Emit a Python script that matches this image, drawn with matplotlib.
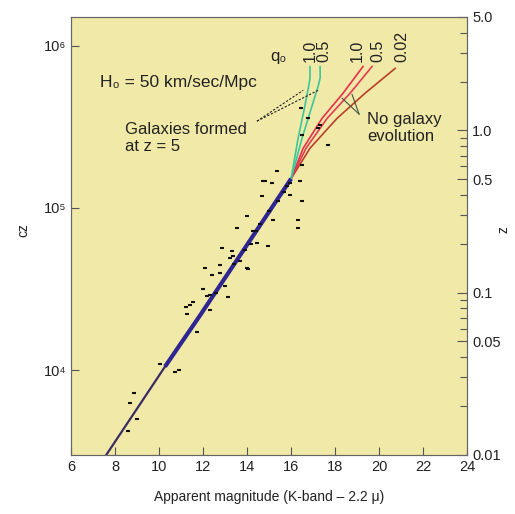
import matplotlib
matplotlib.use("Agg")
import matplotlib.pyplot as plt
from matplotlib.ticker import FixedLocator, FixedFormatter, LogLocator, NullFormatter, NullLocator

plt.rcParams['font.family'] = ['Liberation Sans', 'DejaVu Sans']

C_KMS = 3.0e5  # z = cz / c

# main relation (thick line)
line_mag = [7.6, 10.27, 11.86, 16.0]
line_cz = [3000, 10500, 21700, 151000]

# model curves beyond m ~ 16
green_cz = [151000, 269000, 407000, 562000, 631000, 741000]
green_q10_mag = [16.0, 16.32, 16.6, 16.8, 16.86, 16.86]
green_q05_mag = [16.0, 16.5, 16.91, 17.23, 17.32, 17.32]

red_cz = [151000, 233000, 356000, 508000, 743000]
red_q10_mag = [16.0, 16.55, 17.41, 18.36, 19.27]
red_q05_mag = [16.0, 16.68, 17.64, 18.68, 19.68]
red_q002_mag = [16.0, 16.86, 18.09, 19.36, 20.73]
red_q002_cz = [151000, 233000, 356000, 508000, 723000]

# observed galaxies
gal_mag = [8.68, 8.86, 8.59, 9.0, 10.05, 10.73, 10.91, 11.23, 11.41, 11.55,
           11.27, 11.73, 12.0, 12.32, 12.18, 12.09, 12.77, 13.14, 14.0, 13.36,
           14.73, 15.36, 15.14, 15.82, 16.41, 16.5, 15.95, 14.68, 15.18, 14.0,
           14.95, 16.32, 13.55, 12.86, 13.32, 13.23, 14.05, 12.77, 12.41, 12.32,
           14.45, 14.27, 16.45, 16.77, 17.32, 16.5, 17.68, 16.5, 15.95, 14.82,
           17.23, 16.32, 12.6, 13.0, 13.4, 13.9, 14.2, 14.6, 15.0, 15.4,
           15.7, 13.7, 14.4]
gal_cz = [6300, 7200, 4200, 5000, 10900, 9700, 10000, 24400, 25100, 26100,
          22100, 17100, 31400, 23300, 28800, 42800, 39900, 28000, 42800, 50800,
          146500, 168700, 142200, 136400, 146500, 110500, 120300, 118600, 84400, 89300,
          58500, 75300, 75300, 56900, 54500, 49300, 41700, 44700, 38800, 29200,
          61000, 72300, 410000, 356000, 323000, 280000, 244000, 184000, 142000, 146500,
          309000, 84400, 30000, 33000, 45000, 55000, 60000, 80000, 95000, 110000,
          125000, 47000, 72000]

x_ticks = [6, 8, 10, 12, 14, 16, 18, 20, 22, 24]
cz_ticks = [1e4, 1e5, 1e6]
cz_labels = ["10⁴", "10⁵", "10⁶"]
z_ticks = [0.01, 0.05, 0.1, 0.5, 1.0, 5.0]
z_labels = ["0.01", "0.05", "0.1", "0.5", "1.0", "5.0"]

txt = "#222222"
fig = plt.figure(figsize=(5.15, 5.14), dpi=100)
ax = fig.add_axes([0.138, 0.115, 0.769, 0.852])
ax.set_facecolor("#f1e9a8")

ax.plot(red_q002_mag, red_q002_cz, color="#b8402a", lw=1.2)
ax.plot(red_q05_mag, red_cz, color="#e23a55", lw=1.2)
ax.plot(red_q10_mag, red_cz, color="#e4304c", lw=1.2)
ax.plot(green_q05_mag, green_cz, color="#3cc79a", lw=1.2)
ax.plot(green_q10_mag, green_cz, color="#3cc79a", lw=1.2)
ax.plot(line_mag[:3], line_cz[:3], color="#3b2c62", lw=1.6)
ax.plot(line_mag[1:], line_cz[1:], color="#2e2590", lw=3.0, solid_capstyle="butt")
ax.plot(gal_mag, gal_cz, ls="none", marker="_", ms=3.5, mew=1.5, color="#111111")

# annotations
ax.plot([14.45, 16.55], [342000, 530000], ls=(0, (2, 1.5)), lw=0.8, color=txt)
ax.plot([14.45, 17.23], [342000, 530000], ls=(0, (2, 1.5)), lw=0.8, color=txt)
ax.plot([19.09, 18.32], [378000, 473000], lw=0.8, color="#445544")
ax.plot([19.09, 18.77], [378000, 500000], lw=0.8, color="#445544")

ax.text(7.32, 593000, "H₀ = 50 km/sec/Mpc", fontsize=12.5, color=txt, va="center")
ax.text(8.45, 268000, "Galaxies formed\nat z = 5", fontsize=12, color=txt,
        va="center", linespacing=1.15)
ax.text(19.45, 309000, "No galaxy\nevolution", fontsize=12, color=txt,
        va="center", linespacing=1.2)
ax.text(15.4, 850000, "q₀", fontsize=12, color=txt, va="center", ha="center")
for xm, lab in zip([16.86, 17.5, 19.0, 19.95, 21.05], ["1.0", "0.5", "1.0", "0.5", "0.02"]):
    ax.text(xm, 790000, lab, rotation=90, fontsize=11.5, color=txt,
            ha="center", va="bottom")

ax.set_xlim(6, 24)
ax.set_yscale("log")
ax.set_ylim(0.01 * C_KMS, 5.0 * C_KMS)
ax.xaxis.set_major_locator(FixedLocator(x_ticks))
ax.yaxis.set_major_locator(FixedLocator(cz_ticks))
ax.yaxis.set_major_formatter(FixedFormatter(cz_labels))
ax.yaxis.set_minor_locator(NullLocator())
ax.tick_params(direction="in", length=6, width=0.8, colors="#555555",
               labelcolor=txt, labelsize=10.5, top=False, right=False)
ax.set_xlabel("Apparent magnitude (K-band – 2.2 μ)", fontsize=10, color=txt, labelpad=12)

ax2 = ax.twinx()
ax2.set_yscale("log")
ax2.set_ylim(0.01, 5.0)
ax2.yaxis.set_major_locator(FixedLocator(z_ticks))
ax2.yaxis.set_major_formatter(FixedFormatter(z_labels))
ax2.yaxis.set_minor_locator(LogLocator(base=10, subs=range(2, 10)))
ax2.yaxis.set_minor_formatter(NullFormatter())
ax2.tick_params(which="major", direction="in", length=7, width=0.8, colors="#555555",
                labelcolor=txt, labelsize=10.5)
ax2.tick_params(which="minor", direction="in", length=5, width=0.8, colors="#555555")

# axis titles placed by hand so the right one stays inside the canvas
fig.text(0.045, 0.553, "cz", rotation=90, fontsize=10, color=txt, ha="center", va="center")
fig.text(0.978, 0.553, "z", rotation=90, fontsize=10, color=txt, ha="center", va="center")

for a in (ax, ax2):
    for s in a.spines.values():
        s.set_color("#666666")
        s.set_linewidth(0.8)

fig.savefig("out.png", dpi=100)
